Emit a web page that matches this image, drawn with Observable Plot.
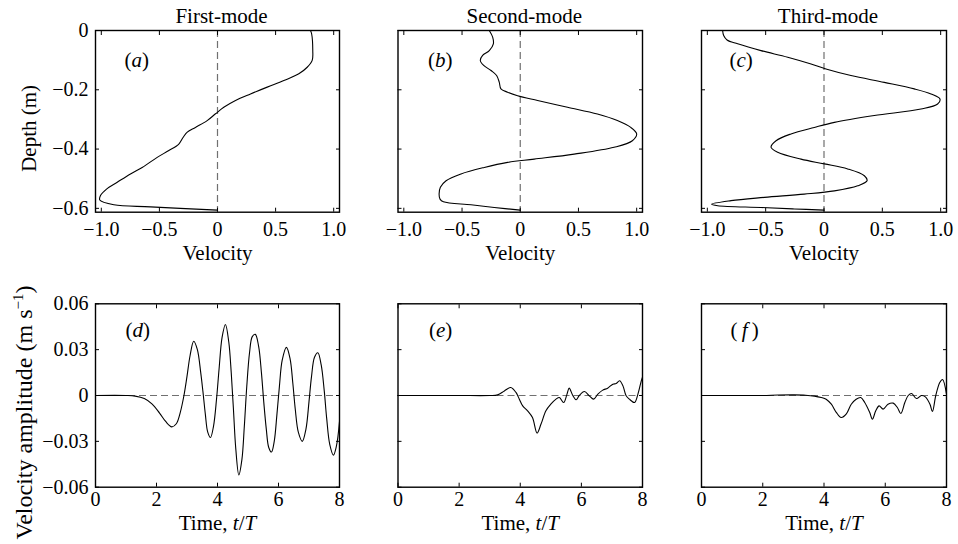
<!DOCTYPE html>
<html>
<head>
<meta charset="utf-8">
<script src="https://cdn.jsdelivr.net/npm/d3@7"></script>
<script src="https://cdn.jsdelivr.net/npm/@observablehq/plot@0.6"></script>
<style>
  html, body { margin: 0; padding: 0; background: #fff; }
  #chart { position: relative; width: 958px; height: 544px; overflow: hidden; background: #fff; }
  #chart svg { position: absolute; overflow: visible; }
  #chart svg text, #chart svg tspan { font-family: "Liberation Serif", "DejaVu Serif", "Noto Serif", serif !important; }
</style>
</head>
<body>
<div id="chart"></div>
<script>
// ---------- text ----------
const modeTitles = ["First-mode", "Second-mode", "Third-mode"];
const panelLetters = ["a", "b", "c", "d", "e", "f"];
const topXLabel = "Velocity";
const topYLabel = "Depth (m)";
const bottomXLabel = "Time, t/T";
const bottomYLabel = "Velocity amplitude (m s−1)";

// ---------- ticks ----------
const profileVelTicks = [-1, -0.5, 0, 0.5, 1];
const profileVelTickLabels = ["−1.0", "−0.5", "0", "0.5", "1.0"];
const depthTicks = [0, -0.2, -0.4, -0.6];
const depthTickLabels = ["0", "−0.2", "−0.4", "−0.6"];
const timeTicks = [0, 2, 4, 6, 8];
const timeTickLabels = ["0", "2", "4", "6", "8"];
const ampTicks = [-0.06, -0.03, 0, 0.03, 0.06];
const ampTickLabels = ["−0.06", "−0.03", "0", "0.03", "0.06"];

// ---------- (a) first-mode profile ----------
const depthA = [0, -0.011, -0.068, -0.101, -0.124, -0.146, -0.169, -0.191, -0.214, -0.236, -0.259, -0.281, -0.304, -0.327, -0.343, -0.36, -0.383, -0.405, -0.428, -0.462, -0.484, -0.512, -0.535, -0.557, -0.572, -0.588, -0.595, -0.606];
const velA   = [0.80, 0.81, 0.82, 0.815, 0.772, 0.70, 0.571, 0.428, 0.284, 0.155, 0.054, -0.017, -0.089, -0.19, -0.26, -0.295, -0.333, -0.419, -0.519, -0.648, -0.749, -0.863, -0.955, -1.007, -1.013, -0.892, -0.577, 0];

// ---------- (b) second-mode profile ----------
const depthB = [0, -0.0225, -0.045, -0.068, -0.084, -0.101, -0.118, -0.135, -0.152, -0.175, -0.197, -0.208, -0.22, -0.236, -0.259, -0.282, -0.304, -0.327, -0.349, -0.372, -0.394, -0.417, -0.434, -0.445, -0.462, -0.484, -0.507, -0.529, -0.552, -0.569, -0.578, -0.588, -0.597, -0.606];
const velB   = [-0.266, -0.237, -0.231, -0.266, -0.323, -0.343, -0.314, -0.251, -0.203, -0.18, -0.166, -0.109, -0.023, 0.149, 0.406, 0.663, 0.834, 0.949, 1.0, 0.963, 0.806, 0.463, 0.12, -0.109, -0.309, -0.509, -0.637, -0.686, -0.697, -0.689, -0.66, -0.423, -0.223, 0];

// ---------- (c) third-mode profile ----------
const depthC = [0, -0.017, -0.032, -0.045, -0.068, -0.09, -0.113, -0.13, -0.152, -0.175, -0.197, -0.214, -0.231, -0.248, -0.265, -0.287, -0.31, -0.327, -0.349, -0.372, -0.394, -0.411, -0.434, -0.45, -0.467, -0.49, -0.507, -0.524, -0.541, -0.552, -0.563, -0.574, -0.586, -0.591, -0.597, -0.602, -0.606];
const velC   = [-0.869, -0.86, -0.831, -0.74, -0.54, -0.311, -0.111, 0.017, 0.231, 0.517, 0.774, 0.917, 0.994, 0.974, 0.831, 0.431, 0.089, -0.083, -0.283, -0.411, -0.454, -0.397, -0.197, 0.003, 0.203, 0.346, 0.369, 0.289, 0.089, -0.169, -0.511, -0.797, -0.963, -0.911, -0.54, -0.254, 0];

// ---------- (d) first-mode time series ----------
const timeD = [0, 1.0, 1.3, 1.6, 1.85, 2.1, 2.3, 2.5, 2.65, 2.78, 2.9, 3.0, 3.1, 3.22, 3.34, 3.45, 3.52, 3.6, 3.68, 3.77, 3.87, 3.97, 4.05, 4.15, 4.26, 4.37, 4.45, 4.52, 4.6, 4.7, 4.8, 4.88, 4.96, 5.05, 5.14, 5.24, 5.35, 5.44, 5.52, 5.6, 5.68, 5.77, 5.86, 5.95, 6.03, 6.12, 6.26, 6.38, 6.47, 6.55, 6.65, 6.78, 6.9, 7.0, 7.08, 7.18, 7.29, 7.4, 7.5, 7.58, 7.68, 7.8, 7.9, 8.0];
const ampD  = [0, 0, -0.0004, -0.002, -0.0055, -0.0115, -0.017, -0.0205, -0.0185, -0.011, 0.0, 0.0125, 0.026, 0.0355, 0.03, 0.015, 0.003, -0.012, -0.024, -0.0275, -0.02, -0.002, 0.017, 0.038, 0.0465, 0.035, 0.015, -0.008, -0.035, -0.052, -0.042, -0.02, 0.006, 0.028, 0.0385, 0.040, 0.032, 0.015, -0.005, -0.022, -0.034, -0.037, -0.03, -0.012, 0.006, 0.023, 0.0315, 0.024, 0.008, -0.009, -0.024, -0.030, -0.022, -0.004, 0.012, 0.025, 0.028, 0.02, 0.003, -0.015, -0.032, -0.039, -0.033, -0.017];

// ---------- (e) second-mode time series ----------
const timeE = [0, 1, 2, 3.0, 3.26, 3.48, 3.69, 3.86, 3.97, 4.08, 4.24, 4.4, 4.55, 4.68, 4.84, 5.0, 5.17, 5.28, 5.42, 5.53, 5.6, 5.72, 5.83, 5.93, 6.1, 6.26, 6.4, 6.54, 6.7, 6.86, 7.03, 7.14, 7.25, 7.36, 7.46, 7.57, 7.74, 7.85, 7.96, 8.0];
const ampE  = [0, 0, 0, 0, 0.0004, 0.003, 0.0052, 0.002, -0.0024, -0.0068, -0.01, -0.0144, -0.0246, -0.0187, -0.01, -0.0057, -0.0024, -0.0013, -0.0046, 0.0009, 0.0048, 0, -0.0028, 0, 0.0026, -0.0002, -0.0024, 0.0009, 0.0035, 0.0048, 0.0074, 0.0078, 0.0096, 0.0063, 0, -0.0024, -0.0046, 0.0009, 0.0096, 0.012];

// ---------- (f) third-mode time series ----------
const timeF = [0, 1, 2, 2.5, 3.03, 3.4, 3.69, 3.91, 4.07, 4.24, 4.4, 4.56, 4.73, 4.89, 5.05, 5.2, 5.33, 5.49, 5.58, 5.69, 5.8, 5.93, 6.09, 6.26, 6.4, 6.51, 6.64, 6.75, 6.86, 7.02, 7.18, 7.31, 7.46, 7.54, 7.65, 7.78, 7.87, 8.0];
const ampF  = [0, 0, 0, 0.0003, 0.0004, 0.0002, -0.0004, -0.0013, -0.0024, -0.0057, -0.011, -0.0144, -0.012, -0.0057, -0.0024, -0.0013, -0.0046, -0.011, -0.0155, -0.01, -0.0068, -0.0089, -0.0057, -0.005, -0.008, -0.0118, -0.0046, 0, 0.0013, -0.002, 0, -0.0009, -0.0057, -0.0105, 0, 0.0085, 0.0105, 0.0009];

// ---------- drawing ----------
const FONT = "'Liberation Serif', 'DejaVu Serif', serif";
const chart = document.getElementById("chart");

// column / row geometry of the svg boxes
const cols = [
  {left: 0,   width: 350, ml: 95,  mr: 11},
  {left: 350, width: 305, ml: 47.5, mr: 13},
  {left: 655, width: 303, ml: 46,  mr: 12}
];
const rows = [
  {top: 0,   height: 272, mt: 30,   mb: 60.3},
  {top: 272, height: 272, mt: 31.3, mb: 57.3}
];

function makePanel(o) {
  const c = cols[o.col], r = rows[o.row];
  const blank = () => "";
  const xfmt = d => o.xTickLabels[o.xTicks.indexOf(d)];
  const yfmt = d => o.yTickLabels[o.yTicks.indexOf(d)];
  const pts = o.xs.map((x, i) => ({x, y: o.ys[i]}));
  const dash = {stroke: "#707070", strokeWidth: 1.2, strokeDasharray: "7,4"};
  const marks = [
    o.zero === "x" ? Plot.ruleX([0], dash) : Plot.ruleY([0], dash),
    Plot.line(pts, {x: "x", y: "y", stroke: "black", strokeWidth: 1.1, curve: "catmull-rom"}),
    Plot.frame({stroke: "black", strokeWidth: 1.4}),
    Plot.axisX(o.xTicks, {anchor: "bottom", tickSize: -4, tickPadding: o.xTickPad, tickFormat: xfmt, label: null}),
    Plot.axisX(o.xTicks, {anchor: "top", tickSize: -4, tickFormat: blank, label: null}),
    Plot.axisY(o.yTicks, {anchor: "left", tickSize: -4, tickPadding: 11, tickFormat: o.col === 0 ? yfmt : blank, label: null}),
    Plot.axisY(o.yTicks, {anchor: "right", tickSize: -4, tickFormat: blank, label: null}),
    Plot.text(["(" + o.letter + ")"], {text: d => d, frameAnchor: "top-left", dx: o.letterDx, dy: o.letterDy, textAnchor: "start", lineAnchor: "bottom", fontSize: 21}),
    Plot.text([o.xLabel], {text: d => d, frameAnchor: "bottom", dy: o.xLabelDy, textAnchor: "middle", lineAnchor: "bottom", fontSize: 21})
  ];
  if (o.title) marks.push(Plot.text([o.title], {text: d => d, frameAnchor: "top", dx: 4, dy: -8, textAnchor: "middle", lineAnchor: "bottom", fontSize: 21}));
  if (o.yLabel) marks.push(Plot.text([o.yLabel], {text: d => d, frameAnchor: "left", dx: o.yLabelDx, dy: o.yLabelDy, rotate: -90, textAnchor: "middle", lineAnchor: "middle", fontSize: o.yLabelSize}));
  const svg = Plot.plot({
    width: c.width, height: r.height,
    marginLeft: c.ml, marginRight: c.mr, marginTop: r.mt, marginBottom: r.mb,
    x: {domain: o.xDomain, axis: null},
    y: {domain: o.yDomain, axis: null},
    style: {fontSize: "20px", color: "black", background: "transparent", overflow: "visible"},
    marks
  });
  svg.style.fontFamily = FONT;
  svg.style.left = c.left + "px";
  svg.style.top = r.top + "px";
  // rich text (italics / superscript) and explicit serif font on every text
  d3.select(svg).selectAll("text").each(function () {
    this.style.fontFamily = FONT;
    const t = this.textContent;
    if (t === bottomXLabel) {
      this.innerHTML = 'Time, <tspan font-style="italic">t</tspan>/<tspan font-style="italic">T</tspan>';
    } else if (t === bottomYLabel) {
      this.innerHTML = 'Velocity amplitude (m s<tspan dy="-9" font-size="15">−1</tspan><tspan dy="9">)</tspan>';
    } else if (/^\([a-f]\)$/.test(t)) {
      const L = t[1];
      const sp = L === "f" ? "\u2009" : "";
      this.innerHTML = '(' + sp + '<tspan font-style="italic">' + L + '</tspan>' + sp + ')';
    }
  });
  chart.appendChild(svg);
}

const profiles = [[velA, depthA], [velB, depthB], [velC, depthC]];
const series = [[timeD, ampD], [timeE, ampE], [timeF, ampF]];
const letterDx = [29, 30, 28];

for (let i = 0; i < 3; i++) {
  makePanel({
    col: i, row: 0, letter: panelLetters[i], letterDx: letterDx[i], letterDy: 36,
    xs: profiles[i][0], ys: profiles[i][1], zero: "x",
    xDomain: [-1.05, 1.05], yDomain: [-0.613, 0],
    xTicks: profileVelTicks, xTickLabels: profileVelTickLabels, xTickPad: 14,
    yTicks: depthTicks, yTickLabels: depthTickLabels,
    title: modeTitles[i], xLabel: topXLabel, xLabelDy: 48,
    yLabel: i === 0 ? topYLabel : null, yLabelDx: -66, yLabelDy: 7, yLabelSize: 21
  });
}
for (let i = 0; i < 3; i++) {
  makePanel({
    col: i, row: 1, letter: panelLetters[i + 3], letterDx: letterDx[i] + 1, letterDy: 33,
    xs: series[i][0], ys: series[i][1], zero: "y",
    xDomain: [0, 8], yDomain: [-0.06, 0.06],
    xTicks: timeTicks, xTickLabels: timeTickLabels, xTickPad: 9,
    yTicks: ampTicks, yTickLabels: ampTickLabels,
    title: null, xLabel: bottomXLabel, xLabelDy: 43,
    yLabel: i === 0 ? bottomYLabel : null, yLabelDx: -71, yLabelDy: 17, yLabelSize: 24
  });
}
</script>
</body>
</html>
